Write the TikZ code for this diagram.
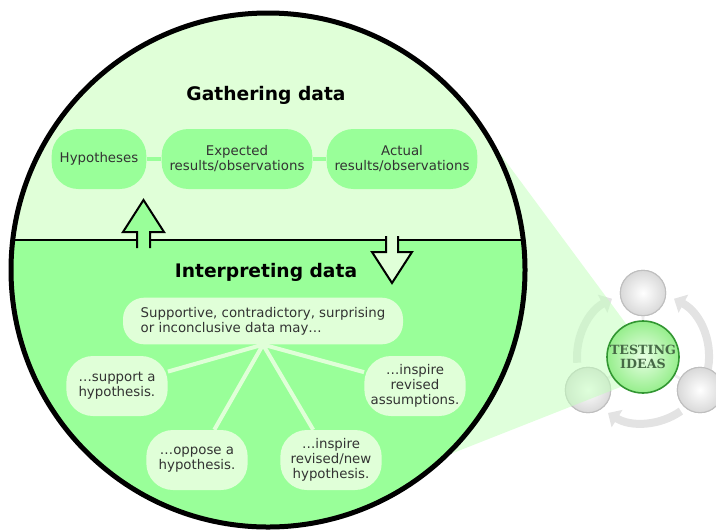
\documentclass[tikz,border=0pt]{standalone}
\usepackage{fontspec}
\setmainfont{DejaVu Sans}
\newfontfamily\slabfont{DejaVu Serif}
\usetikzlibrary{arrows.meta}
\definecolor{palegreen}{RGB}{224,255,216}
\definecolor{midgreen}{RGB}{153,255,153}
\definecolor{darkgreen}{RGB}{50,150,50}
\definecolor{conegreen}{RGB}{196,255,190}
\tikzstyle{title} = [font=\bfseries\fontsize{14}{16}\selectfont, text=black]
\tikzstyle{pill} = [rectangle, rounded corners=20pt, minimum height=45pt, align=center, inner sep=2pt, text=black!80, font=\fontsize{10}{11.25}\selectfont]
\tikzstyle{gather} = [pill, fill=midgreen, minimum width=113pt]
\tikzstyle{interp} = [pill, fill=palegreen, minimum width=76pt]
\tikzstyle{link} = [line width=3pt]
\tikzstyle{blockarrow} = [line width=1.5pt, line join=miter]
\tikzstyle{sphere} = [circle, minimum size=34pt, draw=gray!50, thick, shading=radial, inner color=white, outer color=gray!30]
\tikzstyle{loop} = [gray!22, line width=6pt, -{Triangle[length=8pt,width=15pt]}]
\begin{document}
\begin{tikzpicture}[x=0.75pt,y=-0.75pt]
\useasboundingbox (0,0) rectangle (716,529);
% small testing ideas diagram
\coordinate (hub) at (643,357);
\node[sphere] (obs) at (643,293) {};
\node[sphere] (hypo) at (588,390) {};
\node[sphere] (expt) at (700,390) {};
\draw[gray!15, line width=2pt] (hub) -- (obs) (hub) -- (hypo) (hub) -- (expt);
\draw[loop] (hub) ++(-185:66) arc[start angle=-185, end angle=-118, radius=66];
\draw[loop] (hub) ++(15:66) arc[start angle=15, end angle=-62, radius=66];
\draw[loop] (hub) ++(55:66) arc[start angle=55, end angle=122, radius=66];
\node[sphere] at (obs) {};
\node[sphere] at (hypo) {};
\node[sphere] at (expt) {};
% zoom cone
\fill[conegreen, opacity=.55] (470,113) -- (661,371) -- (420,466) -- cycle;
\node[circle, minimum size=54pt, draw=darkgreen, line width=1.2pt, shading=radial,
  inner color={rgb,255:red,232;green,255;blue,228}, outer color={rgb,255:red,150;green,238;blue,140},
  align=center, text={rgb,255:red,70;green,105;blue,70}, inner sep=0pt,
  font=\slabfont\bfseries\fontsize{9.5}{10}\selectfont] (test) at (hub) {TESTING\\IDEAS};
% big circle
\fill[palegreen] (268,270) circle[radius=257];
\begin{scope}
\clip (0,240) rectangle (716,529);
\fill[midgreen] (268,270) circle[radius=257];
\end{scope}
\draw[line width=1.5pt] (13,240) -- (137,240) (150,240) -- (386,240) (398,240) -- (523,240);
\filldraw[blockarrow, fill=midgreen] (137,248) -- (137,232) -- (123,232) -- (143.5,200) -- (164,232) -- (150,232) -- (150,248);
\filldraw[blockarrow, fill=palegreen] (386,236) -- (386,252) -- (372,252) -- (392,283) -- (412,252) -- (398,252) -- (398,236);
\draw[line width=3.75pt] (268,270) circle[radius=257];
% gathering data
\node[title] (gtitle) at (266,95) {Gathering data};
\node[gather, minimum width=71pt] (hyp) at (99,159) {Hypotheses};
\node[gather] (exp) at (237,159) {Expected\\results/observations};
\node[gather] (act) at (402,159) {Actual\\results/observations};
\draw[link, midgreen] (hyp) -- (exp);
\draw[link, midgreen] (exp) -- (act);
% interpreting data
\node[title] (ititle) at (266,272) {Interpreting data};
\node[interp, minimum width=210pt, minimum height=35pt, rounded corners=16pt, align=left] (data) at (263,321)
  {Supportive, contradictory, surprising\\or inconclusive data may…};
\node[interp, align=left] (supp) at (117,386) {…support a\\hypothesis.};
\node[interp] (opp) at (197,460) {…oppose a\\hypothesis.};
\node[interp] (newhyp) at (331,460) {…inspire\\revised/new\\hypothesis.};
\node[interp] (assum) at (415,386) {…inspire\\revised\\assumptions.};
\foreach \n in {supp,opp,newhyp,assum}
  \draw[link, palegreen] (data.south) -- (\n);
\end{tikzpicture}
\end{document}
